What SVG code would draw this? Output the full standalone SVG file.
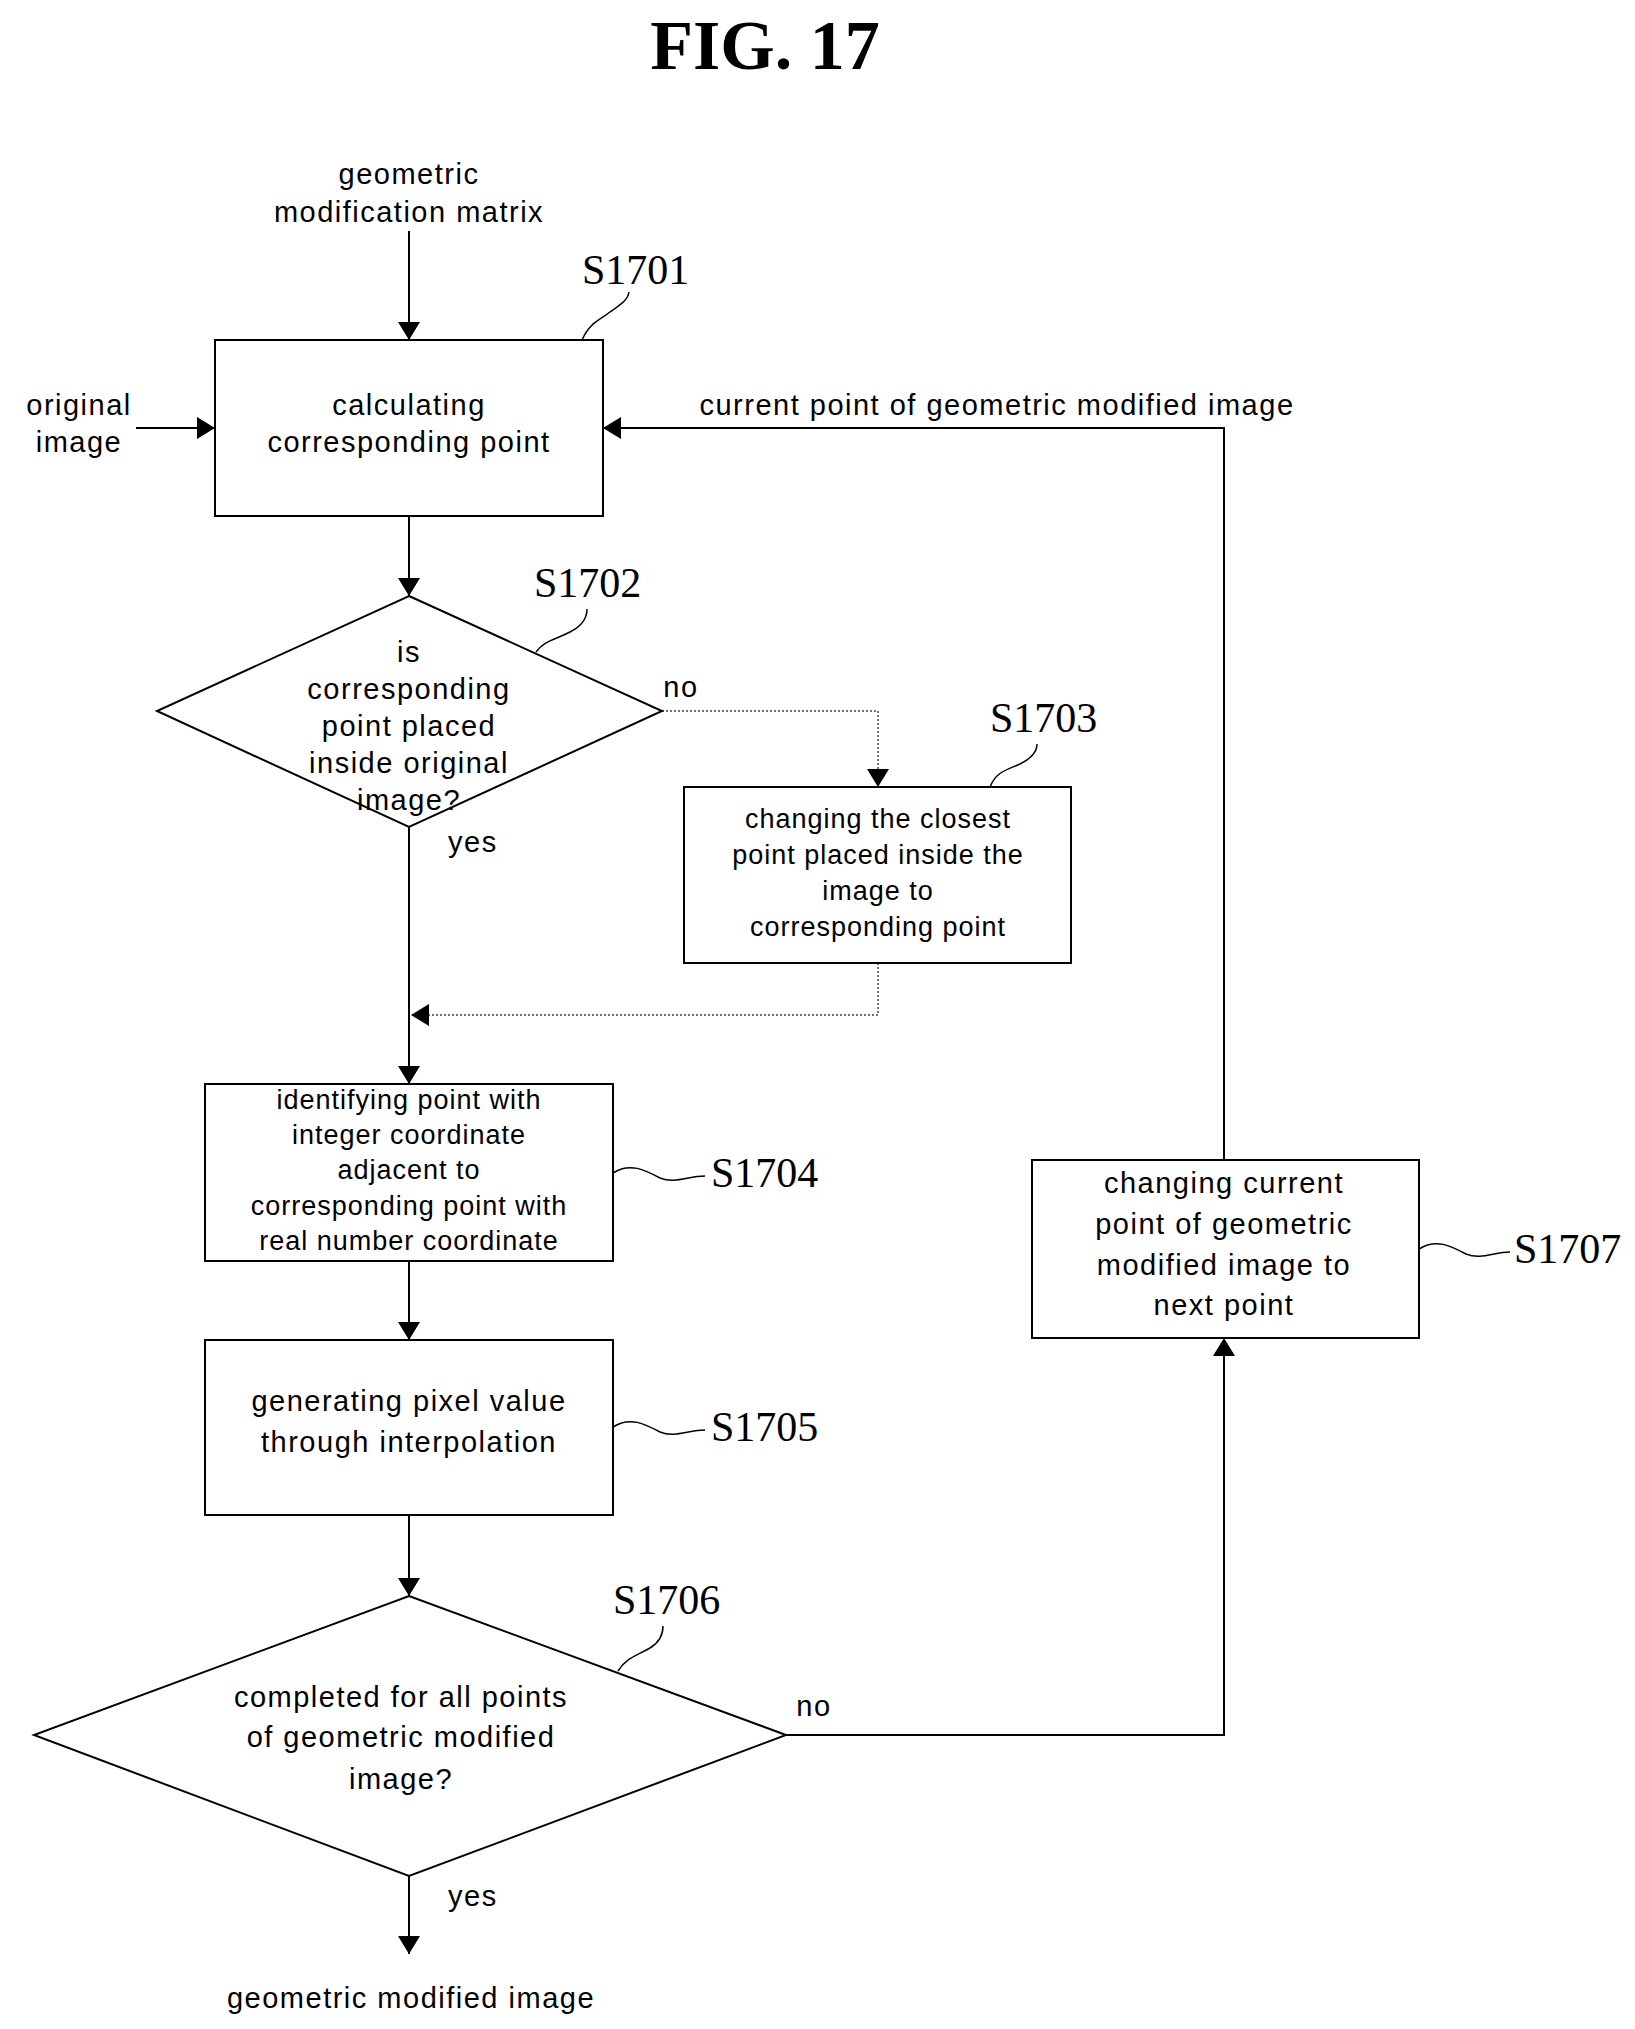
<svg xmlns="http://www.w3.org/2000/svg" width="1635" height="2029" viewBox="0 0 1635 2029">
<style>
text{font-family:"Liberation Sans",Arial,sans-serif;fill:#000}
.t{font-size:29px;text-anchor:middle;letter-spacing:1.5px}
.s{font-size:27px;text-anchor:middle;letter-spacing:1px}
.lbl{font-family:"Liberation Serif","Times New Roman",serif;font-size:42px}
.box{fill:#fff;stroke:#000;stroke-width:2}
.ln{fill:none;stroke:#000;stroke-width:2}
.dot{fill:none;stroke:#444;stroke-width:1.5;stroke-dasharray:2 2}
.ld{fill:none;stroke:#000;stroke-width:1.5}
</style>
<defs>
<marker id="a" viewBox="0 0 10 10" refX="10" refY="5" markerWidth="12" markerHeight="12" markerUnits="userSpaceOnUse" orient="auto">
<path d="M0,0 L10,5 L0,10 Z" fill="#000"/>
</marker>
<marker id="b" viewBox="0 0 10 10" refX="10" refY="5" markerWidth="18" markerHeight="22" markerUnits="userSpaceOnUse" orient="auto" preserveAspectRatio="none">
<path d="M0,0 L10,5 L0,10 Z" fill="#000"/>
</marker>
</defs>
<text x="765" y="69" text-anchor="middle" style="font-family:'Liberation Serif',serif;font-weight:bold;font-size:70px">FIG. 17</text>

<g id="inputs">
<text class="t" x="409" y="184">geometric</text>
<text class="t" x="409" y="222">modification matrix</text>
<text class="t" x="79" y="415">original</text>
<text class="t" x="79" y="452">image</text>
<text class="t" x="997" y="415">current point of geometric modified image</text>
</g>

<g id="connectors">
<line class="ln" x1="409" y1="231" x2="409" y2="340" marker-end="url(#b)"/>
<line class="ln" x1="136" y1="428" x2="215" y2="428" marker-end="url(#b)"/>
<polyline class="ln" points="1224,1160 1224,428 603,428" marker-end="url(#b)"/>
<line class="ln" x1="409" y1="516" x2="409" y2="596" marker-end="url(#b)"/>
<polyline class="dot" points="662,711 878,711 878,787" marker-end="url(#b)"/>
<polyline class="dot" points="878,963 878,1015 411,1015" marker-end="url(#b)"/>
<line class="ln" x1="409" y1="827" x2="409" y2="1084" marker-end="url(#b)"/>
<line class="ln" x1="409" y1="1261" x2="409" y2="1340" marker-end="url(#b)"/>
<line class="ln" x1="409" y1="1515" x2="409" y2="1596" marker-end="url(#b)"/>
<polyline class="ln" points="786,1735 1224,1735 1224,1338" marker-end="url(#b)"/>
<line class="ln" x1="409" y1="1876" x2="409" y2="1954" marker-end="url(#b)"/>
<text class="t" x="681" y="697">no</text>
<text class="t" x="448" y="852" text-anchor="start" style="text-anchor:start">yes</text>
<text class="t" x="814" y="1716">no</text>
<text class="t" x="448" y="1906" style="text-anchor:start">yes</text>
</g>

<g id="S1701">
<rect class="box" x="215" y="340" width="388" height="176"/>
<text class="t" x="409" y="415">calculating</text>
<text class="t" x="409" y="452">corresponding point</text>
<path class="ld" d="M582,340 C590,322 600,320 610,312 C620,305 628,300 629,292"/>
<text class="lbl" x="582" y="284">S1701</text>
</g>

<g id="S1702">
<polygon class="box" points="409,596 662,711 409,827 157,711"/>
<text class="t" x="409" y="662">is</text>
<text class="t" x="409" y="699">corresponding</text>
<text class="t" x="409" y="736">point placed</text>
<text class="t" x="409" y="773">inside original</text>
<text class="t" x="409" y="810">image?</text>
<path class="ld" d="M536,652 C545,640 555,640 570,632 C582,626 587,618 587,609"/>
<text class="lbl" x="534" y="597">S1702</text>
</g>

<g id="S1703">
<rect class="box" x="684" y="787" width="387" height="176"/>
<text class="s" x="878" y="828">changing the closest</text>
<text class="s" x="878" y="864">point placed inside the</text>
<text class="s" x="878" y="900">image to</text>
<text class="s" x="878" y="936">corresponding point</text>
<path class="ld" d="M990,787 C996,772 1006,770 1020,764 C1032,758 1037,752 1037,744"/>
<text class="lbl" x="990" y="732">S1703</text>
</g>

<g id="S1704">
<rect class="box" x="205" y="1084" width="408" height="177"/>
<text class="s" x="409" y="1109">identifying point with</text>
<text class="s" x="409" y="1144">integer coordinate</text>
<text class="s" x="409" y="1179">adjacent to</text>
<text class="s" x="409" y="1215">corresponding point with</text>
<text class="s" x="409" y="1250">real number coordinate</text>
<path class="ld" d="M613,1173 C630,1162 645,1170 660,1178 C675,1184 688,1176 705,1176"/>
<text class="lbl" x="711" y="1187">S1704</text>
</g>

<g id="S1705">
<rect class="box" x="205" y="1340" width="408" height="175"/>
<text class="t" x="409" y="1411">generating pixel value</text>
<text class="t" x="409" y="1452">through interpolation</text>
<path class="ld" d="M613,1427 C630,1416 645,1424 660,1432 C675,1438 688,1430 705,1430"/>
<text class="lbl" x="711" y="1441">S1705</text>
</g>

<g id="S1706">
<polygon class="box" points="409,1596 786,1735 409,1876 34,1735"/>
<text class="t" x="401" y="1707">completed for all points</text>
<text class="t" x="401" y="1747">of geometric modified</text>
<text class="t" x="401" y="1789">image?</text>
<path class="ld" d="M618,1671 C626,1658 636,1656 650,1648 C660,1642 663,1635 663,1626"/>
<text class="lbl" x="613" y="1614">S1706</text>
</g>

<g id="S1707">
<rect class="box" x="1032" y="1160" width="387" height="178"/>
<text class="t" x="1224" y="1193">changing current</text>
<text class="t" x="1224" y="1234">point of geometric</text>
<text class="t" x="1224" y="1275">modified image to</text>
<text class="t" x="1224" y="1315">next point</text>
<path class="ld" d="M1419,1249 C1436,1238 1451,1246 1466,1254 C1481,1260 1494,1252 1510,1252"/>
<text class="lbl" x="1514" y="1263">S1707</text>
</g>

<g id="output">
<text class="t" x="411" y="2008">geometric modified image</text>
</g>
</svg>
